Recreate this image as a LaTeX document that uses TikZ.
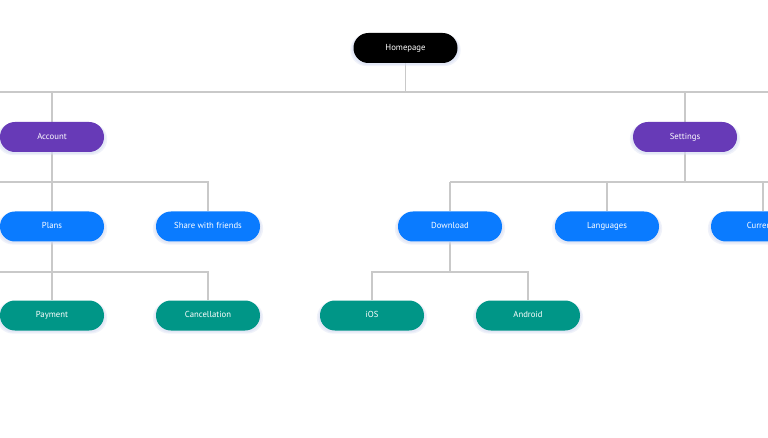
\documentclass[tikz,border=0pt]{standalone}
\usepackage{fontspec}
\setmainfont{PT Sans}
\usetikzlibrary{backgrounds,shadows}
\definecolor{cblack}{HTML}{000000}
\definecolor{cpurple}{HTML}{673AB7}
\definecolor{cblue}{HTML}{0A7BFF}
\definecolor{cteal}{HTML}{009687}
\definecolor{cline}{HTML}{C9C9C9}
\definecolor{cshadow}{HTML}{D5DCF2}
\tikzset{
  pill/.style={rectangle, rounded corners=14.9pt, minimum width=104pt, minimum height=30pt,
    inner sep=0pt, text=white, font=\fontsize{8.7}{10}\selectfont,
    text height=6.3pt, text depth=1.9pt,
    drop shadow={shadow xshift=0pt, shadow yshift=-2pt, shadow scale=1.06, fill=cshadow, opacity=0.35},
    drop shadow={shadow xshift=0pt, shadow yshift=-1.5pt, shadow scale=1.03, fill=cshadow, opacity=0.45}},
  homebox/.style={pill, fill=cblack},
  lvlone/.style={pill, fill=cpurple},
  lvltwo/.style={pill, fill=cblue},
  lvlthree/.style={pill, fill=cteal},
  wire/.style={draw=cline, line width=1.1pt}
}
\begin{document}
\begin{tikzpicture}[x=1pt,y=-1pt]
\useasboundingbox (0,0) rectangle (768,438);
\node[homebox] (home) at (405.5,48) {Homepage};
\node[lvlone] (acc) at (52,137) {Account};
\node[lvlone] (set) at (685,137) {Settings};
\node[lvltwo] (plans) at (52,226.5) {Plans};
\node[lvltwo] (share) at (208,226.5) {Share with friends};
\node[lvltwo] (down) at (450,226.5) {Download};
\node[lvltwo] (lang) at (607,226.5) {Languages};
\node[lvltwo] (curr) at (763,226.5) {Currency};
\node[lvlthree] (pay) at (52,315.5) {Payment};
\node[lvlthree] (canc) at (208,315.5) {Cancellation};
\node[lvlthree] (ios) at (372,315.5) {iOS};
\node[lvlthree] (andr) at (528,315.5) {Android};
\coordinate (busAL) at (-5,92);
\coordinate (busAR) at (773,92);
\coordinate (busBL) at (-5,182);
\coordinate (busCR) at (773,182);
\coordinate (busDL) at (-5,272);
\begin{scope}[on background layer]
\fill[white] (0,0) rectangle (768,438);
\draw[wire] (busAL) -- (busAR);
\draw[wire] (home.south) -- (home.south |- busAL);
\draw[wire] (acc.north) -- (acc.north |- busAL);
\draw[wire] (set.north) -- (set.north |- busAL);
\draw[wire] (busBL) -- (share.north |- busBL) -- (share.north);
\draw[wire] (acc.south) -- (plans.north);
\draw[wire] (down.north |- busCR) -- (busCR);
\draw[wire] (down.north |- busCR) -- (down.north);
\draw[wire] (lang.north |- busCR) -- (lang.north);
\draw[wire] (curr.north |- busCR) -- (curr.north);
\draw[wire] (set.south) -- (set.south |- busCR);
\draw[wire] (busDL) -- (canc.north |- busDL) -- (canc.north);
\draw[wire] (plans.south) -- (pay.north);
\draw[wire] (ios.north) -- (ios.north |- busDL) -- (andr.north |- busDL) -- (andr.north);
\draw[wire] (down.south) -- (down.south |- busDL);
\end{scope}
\end{tikzpicture}
\end{document}
